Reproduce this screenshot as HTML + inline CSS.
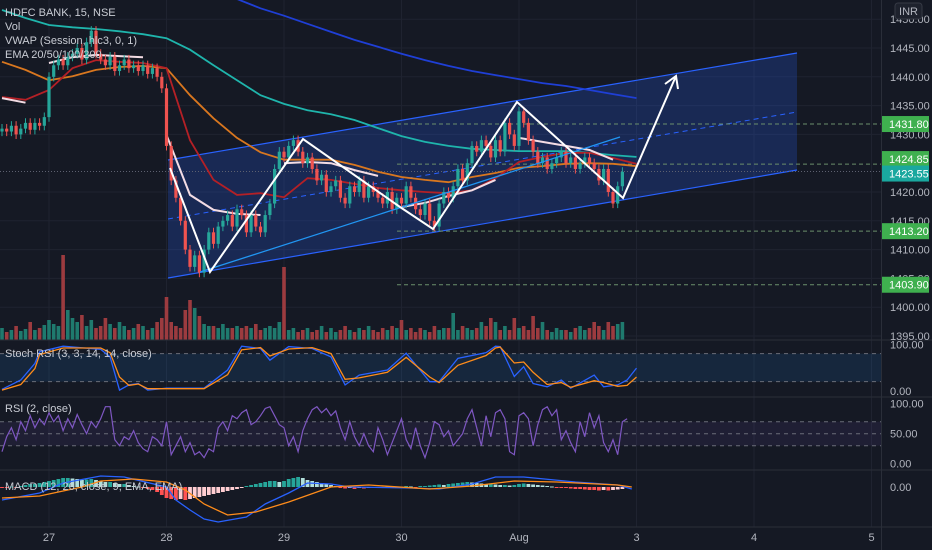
<!DOCTYPE html>
<html><head><meta charset="utf-8"><style>
html,body{margin:0;padding:0;background:#151924;}
svg{display:block;font-family:"Liberation Sans",sans-serif;}
</style></head><body>
<svg id="chart" width="932" height="550" viewBox="0 0 932 550">
<rect x="0" y="0" width="932" height="550" fill="#151924"/>
<defs>
<clipPath id="mainClip"><rect x="0" y="0" width="881" height="340"/></clipPath>
<clipPath id="macdClip"><rect x="0" y="470" width="881" height="56"/></clipPath>
</defs>
<g id="grid"></g>
<g id="drawBack" clip-path="url(#mainClip)">
<polygon points="168,160 797,53 797,170 168,278" fill="rgba(41,98,255,0.22)" stroke="none"/>
<line x1="168" y1="160" x2="797" y2="53" stroke="#2962ff" stroke-width="1.2"/>
<line x1="168" y1="278" x2="797" y2="170" stroke="#2962ff" stroke-width="1.2"/>
<line x1="168" y1="219" x2="797" y2="112" stroke="#2962ff" stroke-width="1" stroke-dasharray="5,4"/>
</g>
<g id="levels"></g>
<g id="volume" clip-path="url(#mainClip)"></g>
<g id="emas" clip-path="url(#mainClip)"></g>
<g id="candles" clip-path="url(#mainClip)"></g>
<g id="drawFront" clip-path="url(#mainClip)">
<line x1="200" y1="272" x2="620" y2="137" stroke="#2196f3" stroke-width="1.3"/>
<polyline points="170,168 210,272 303,139 400,207 433,229 517,102 623,198 676,76" fill="none" stroke="#ffffff" stroke-width="2"/>
<polyline points="665,84 676,76 678,89" fill="none" stroke="#ffffff" stroke-width="2"/>
</g>
<g id="panes"></g>
<g id="axis"></g>
<g id="legend" fill="#c9ccd4" font-size="11">
<text x="5" y="16">HDFC BANK, 15, NSE</text>
<text x="5" y="30">Vol</text>
<text x="5" y="44">VWAP (Session, hlc3, 0, 1)</text>
<text x="5" y="58">EMA 20/50/100/200</text>
<text x="5" y="357">Stoch RSI (3, 3, 14, 14, close)</text>
<text x="5" y="412">RSI (2, close)</text>
<text x="5" y="490">MACD (12, 26, close, 9, EMA, EMA)</text>
</g>
</svg>
<script>
// ---- data ----
const closes = [1431,1430.5,1431.5,1430,1431,1432,1430.8,1432,1431.5,1433,
1440,1442,1443,1442,1443.5,1444,1445,1443,1446,1448,1444,1443,1442,1443.5,1441,1442,1443,1441.5,1442,1441,1442,1440.5,1441.5,1440,1438,
1428,1422,1419,1415,1410,1407,1409,1406,1410,1413,1411,1414,1415,1416,1414,1417,1416,1413,1416,1414,1413,1416,1418,1424,1427,
1426,1428,1429,1427,1425,1426,1424,1422,1423,1420,1421,1422,1419,1418,1421,1420,1422,1419,1421,1420,1419,1418,1420,1417,1419,
1418,1421,1419,1417,1416,1418,1415,1414,1418,1420,1419,1421,1424,1422,1425,1428,1427,1429,1428,1426,1429,1427,1432,1430,1428,
1434,1432,1429,1427,1425,1426,1424,1425,1426,1427,1425,1426,1424,1425,1426,1425,1424,1422,1424,1420,1418,1421,1423.5];
const volumes = [12,8,10,14,9,11,18,10,12,15,20,16,14,85,30,22,18,25,14,20,12,14,22,16,12,18,14,10,12,16,
14,10,12,18,22,43,18,14,12,30,40,32,24,16,14,14,12,16,12,12,14,12,14,12,16,10,12,14,12,18,
73,10,12,8,10,12,8,10,14,8,12,8,10,14,10,8,12,10,14,10,8,12,10,14,12,20,10,12,8,12,
10,8,14,10,12,12,27,10,14,12,10,12,18,14,22,18,10,14,10,22,12,14,10,24,12,18,10,8,12,10,
10,8,12,14,10,12,18,14,10,18,14,16,18];
const lineIdx = [0,5,10,15,20,25,30,35,40,45,50,55,60,65,70,75,80,85,90,95,100,105,110,115,120,125,130,135];
const ema20 = [1436.5,1436.0,1437.7,1441.5,1442.9,1442.6,1442.4,1441.5,1429.0,1422.1,1419.5,1419.8,1419.1,1422.4,1422.1,1421.4,1420.7,1420.3,1420.0,1419.8,1420.3,1422.4,1425.2,1426.1,1426.8,1426.8,1425.9,1424.9];
const ema50 = [1442.6,1441.2,1439.4,1440.1,1441.2,1441.7,1441.9,1441.5,1436.8,1432.8,1429.4,1426.9,1425.6,1425.6,1425.6,1424.7,1423.5,1422.6,1422.1,1421.7,1422.6,1423.3,1424.2,1424.5,1424.9,1425.0,1424.9,1424.5];
const ema100 = [1451.6,1450.2,1449.0,1448.6,1448.3,1447.9,1447.4,1446.7,1444.7,1442.0,1439.4,1436.8,1435.3,1434.2,1433.5,1432.5,1431.1,1429.7,1428.7,1428.0,1427.5,1427.3,1427.1,1427.1,1427.1,1426.8,1426.4,1426.1];
const ema200 = [1463.7,1462.9,1462.0,1461.1,1460.3,1459.4,1458.5,1457.7,1456.5,1455.1,1453.5,1451.9,1450.6,1449.2,1447.8,1446.4,1445.2,1444.0,1442.9,1441.9,1441.0,1440.3,1439.6,1438.9,1438.4,1437.7,1437.0,1436.3];
const vwap = [1436.3,1435.5,1442.4,1443.4,1443.8,1443.6,1443.4,1429.9,1419.5,1416.9,1416.2,1416.0,1425.0,1425.2,1425.0,1423.8,1422.8,1417.4,1418.1,1419.3,1420.3,1422.1,1429.4,1428.7,1428.0,1427.3,1425.6];
const sessionStarts = [10,35,60,85,110];
const priceTicks = [1450,1445,1440,1435,1430,1420,1415,1410,1405,1400,1395];
const tagPrices = [1431.80,1424.85,1423.55,1413.20,1403.90];
const tagLabels = ["1431.80","1424.85","1423.55","1413.20","1403.90"];
const dayLabels = ["27","28","29","30","Aug","3","4","5"];
const dayIdx = [10,35,60,85,110,135,160,185];
const stochIdx = [0,4,7,8,13,21,23,25,27,29,31,35,43,48,51,55,57,61,66,70,73,76,82,86,91,93,97,103,105,106,109,111,113,116,119,121,126,128,131,133,135];
const stochK = [3.6,23.5,59,84,96,89,73,2,13,16,2,6,6,45,96,91,66,95,91,73,13,34,45,81,20,20,70,82,96,95,31,52,16,9,23.5,6,34,9,13,23.5,49];
const stochD = [2,14,48,78,92,92,82,30,12,15,5,5,5,35,88,93,75,90,93,80,25,28,40,72,30,18,55,76,92,94,60,62,40,14,18,8,22,18,10,12,30];
const rsi = [20,45,60,40,70,55,80,60,75,65,85,70,80,55,75,60,82,65,50,70,60,75,95,95,40,30,45,40,55,35,
25,20,45,40,30,70,15,30,45,20,35,15,20,10,25,20,60,70,55,80,75,85,90,65,70,80,92,95,80,65,
60,30,45,20,55,75,90,95,85,92,80,88,60,40,70,45,30,50,30,20,60,40,15,35,55,75,40,25,60,30,
10,35,70,65,45,55,30,40,50,75,90,60,30,80,45,85,90,75,20,15,80,85,75,30,65,90,95,80,90,40,
55,35,20,70,45,85,60,80,35,20,40,15,70,75];
const macdIdx = [0,8,13,21,26,35,37,40,43,46,52,56,61,65,70,74,87,93,100,105,111,122,131,134];
const macdLine = [-1.3,-0.6,0.4,1.1,1.0,0,-1.3,-2.3,-3.2,-3.5,-3.0,-1.7,-0.6,0.4,0.3,0,-0.1,-0.2,0.3,1.0,1.0,0.5,0.2,-0.2];
const signalIdx = [0,8,17,21,28,35,39,43,48,54,61,70,78,91,100,109,118,131,134];
const signalLine = [-1.1,-0.9,0,0.6,0.8,0.5,-0.3,-1.7,-2.8,-2.5,-1.5,0,0.2,-0.2,0.1,0.6,0.5,0.2,0];
const hist = [-0.1,-0.1,0.05,-0.05,0.1,0.2,0.3,0.3,0.4,0.5,0.6,0.7,0.8,0.9,0.9,0.85,0.8,0.7,0.75,0.8,
0.7,0.6,0.5,0.5,0.4,0.3,0.3,0.2,0.1,0.05,-0.1,-0.2,-0.3,-0.5,-0.8,-1.1,-1.2,-1.3,-1.2,-1.3,
-1.2,-1.1,-1.0,-0.9,-0.8,-0.7,-0.6,-0.5,-0.4,-0.3,-0.2,-0.1,0.1,0.2,0.3,0.4,0.5,0.6,0.6,0.5,
0.6,0.8,0.9,1.0,0.9,0.7,0.6,0.5,0.4,0.3,0.2,0.1,-0.1,-0.15,-0.1,-0.2,-0.1,-0.15,-0.1,-0.1,
-0.1,-0.05,0.05,-0.1,-0.05,0.05,0.1,0.05,-0.05,0.1,0.1,0.15,0.2,0.25,0.2,0.3,0.35,0.4,0.45,0.5,
0.45,0.4,0.35,0.3,0.3,0.25,0.2,0.2,0.15,0.2,0.3,0.35,0.3,0.25,0.2,0.15,0.1,0.05,-0.05,-0.1,
-0.1,-0.15,-0.2,-0.2,-0.25,-0.3,-0.3,-0.35,-0.3,-0.35,-0.3,-0.25,-0.2];

// ---- axes ----
const NS = "http://www.w3.org/2000/svg";
const xOf = i => 2 + i * 4.7;
const yP = p => 48 + (1445 - p) * 5.76;
const yVol = v => 340 - v;
const yStoch = v => 391 - v * 0.467;
const yRsi = v => 433.7 - (v - 50) * 0.6;
const yMacd = v => 487 - v * 10;
function mk(tag, attrs, parent){const e=document.createElementNS(NS,tag);for(const k in attrs)e.setAttribute(k,attrs[k]);parent.appendChild(e);return e;}
const G = id => document.getElementById(id);

// grid
const grid = G('grid');
priceTicks.forEach(p=>{const l=mk('line',{x1:0,x2:881,y1:yP(p),y2:yP(p),stroke:'#1f2330','stroke-width':1},grid);

});
dayIdx.forEach(d=>{const l=mk('line',{x1:xOf(d),x2:xOf(d),y1:0,y2:527,stroke:'#1f2330','stroke-width':1},grid);

});

// level lines and tags
const lv = G('levels');
const ax = G('axis');
tagPrices.forEach((p,k)=>{
  const y=yP(p);
  const isCur = k===2;
  const l=mk('line',{x1:isCur?0:397,x2:881,y1:y,y2:y,stroke:isCur?'#5d6170':'#6b8f6b','stroke-width':1,'stroke-dasharray':isCur?'1,2':'4,3'},lv);
  
  
});
// volume
const vg=G('volume');
closes.forEach((c,i)=>{
  const up = i===0 ? true : c>=closes[i-1];
  const r=mk('rect',{x:xOf(i)-1.8,y:yVol(volumes[i]),width:3.6,height:volumes[i],fill:up?'#1f7a6e':'#9c3b3f'},vg);
  
  
});
// EMA lines
const eg=G('emas');
function pathFrom(idx, vals, yf, breaks){let d='';idx.forEach((ix,k)=>{if(k>=vals.length)return;const cmd=(k===0||(breaks&&breaks.includes(ix)))?'M':'L';d+=cmd+xOf(ix).toFixed(1)+','+yf(vals[k]).toFixed(1)+' ';});return d;}
[[ema200,'#1f3fd6','ema-200-line'],[ema100,'#1fb5ac','ema-100-line'],[ema50,'#d9771f','ema-50-line'],[ema20,'#b42026','ema-20-line']].forEach(([arr,col,name])=>{
  const p=mk('path',{d:pathFrom(lineIdx,arr,yP),fill:'none',stroke:col,'stroke-width':1.8},eg);
  
  
});
const vp=mk('path',{d:pathFrom(lineIdx,vwap,yP,sessionStarts),fill:'none',stroke:'#f3dce4','stroke-width':2},eg);


// candles
const cg=G('candles');
closes.forEach((c,i)=>{
  const o = i===0 ? c-0.5 : closes[i-1];
  const up = c>=o;
  const col = up?'#26a69a':'#ef5350';
  const hi=Math.max(o,c)+0.8, lo=Math.min(o,c)-0.8;
  const w=mk('line',{x1:xOf(i),x2:xOf(i),y1:yP(hi),y2:yP(lo),stroke:col,'stroke-width':1},cg);
  
  
  const top=yP(Math.max(o,c)), h=Math.max(1,yP(Math.min(o,c))-top);
  const b=mk('rect',{x:xOf(i)-1.6,y:top,width:3.2,height:h,fill:col},cg);
  
  
});
// panes
const pg=G('panes');
[[340],[397],[470],[527]].forEach(([y])=>{const l=mk('line',{x1:0,x2:932,y1:y,y2:y,stroke:'#2a2e39','stroke-width':1},pg);

});
const sb=mk('rect',{x:0,y:yStoch(80),width:881,height:yStoch(20)-yStoch(80),fill:'rgba(33,150,243,0.12)'},pg);


const rb=mk('rect',{x:0,y:yRsi(70),width:881,height:yRsi(30)-yRsi(70),fill:'rgba(126,87,194,0.1)'},pg);


[yStoch(80),yStoch(20),yRsi(70),yRsi(50),yRsi(30)].forEach(y=>{const l=mk('line',{x1:0,x2:881,y1:y,y2:y,stroke:'#6a6d78','stroke-width':1,'stroke-dasharray':'4,4'},pg);

});
const sk=mk('path',{d:pathFrom(stochIdx,stochK,yStoch),fill:'none',stroke:'#2962ff','stroke-width':1.3},pg);


const sd=mk('path',{d:pathFrom(stochIdx,stochD,yStoch),fill:'none',stroke:'#ff8c1a','stroke-width':1.3},pg);


const ri=mk('path',{d:pathFrom(rsi.map((v,i)=>i),rsi,yRsi),fill:'none',stroke:'#7e57c2','stroke-width':1.2},pg);


const mg=mk('g',{'clip-path':'url(#macdClip)'},pg);


hist.forEach((v,i)=>{
  const prev=i===0?0:hist[i-1];
  const col = v>=0 ? (v>=prev?'#26a69a':'#b2dfdb') : (v<=prev?'#ff5252':'#ffcdd2');
  const y1=yMacd(Math.max(v,0)), y2=yMacd(Math.min(v,0));
  const r=mk('rect',{x:xOf(i)-1.9,y:y1,width:3.8,height:Math.max(1,y2-y1),fill:col},mg);
  
  
});
const ml=mk('path',{d:pathFrom(macdIdx,macdLine,yMacd),fill:'none',stroke:'#2962ff','stroke-width':1.3},mg);


const sl=mk('path',{d:pathFrom(signalIdx,signalLine,yMacd),fill:'none',stroke:'#ff8c1a','stroke-width':1.3},mg);


// axis
const al=mk('line',{x1:881.5,x2:881.5,y1:0,y2:550,stroke:'#2a2e39','stroke-width':1},ax);


function txt(x,y,s,name,fill,anchor){const t=mk('text',{x:x,y:y,fill:fill||'#b2b5be','font-size':11,'text-anchor':anchor||'start'},ax);t.textContent=s;

return t;}
priceTicks.forEach(p=>txt(890,yP(p)+4,p.toFixed(2),'price-tick-label'));
[[yStoch(100),'100.00'],[yStoch(0),'0.00'],[yRsi(100),'100.00'],[yRsi(50),'50.00'],[yRsi(0),'0.00'],[yMacd(0),'0.00']].forEach(([y,s])=>txt(890,y+4,s,'indicator-tick-label'));
const ib=mk('rect',{x:895,y:3,width:27,height:16,rx:3,fill:'#1e222d',stroke:'#363a45'},ax);


txt(908.5,15,'INR','currency-label','#b2b5be','middle');
tagPrices.forEach((p,k)=>{
  let y=yP(p);
  if(k===1) y-=5;
  if(k===2) y+=2;
  const r=mk('rect',{x:882,y:y-8,width:47,height:16,fill:k===2?'#1aa89f':'#3fb04f'},ax);
  
  
  txt(889,y+4,tagLabels[k],'price-tag-label','#ffffff');
});
dayIdx.forEach((d,k)=>txt(xOf(d),541,dayLabels[k],'time-label','#b2b5be','middle'));
</script>
</body></html>
